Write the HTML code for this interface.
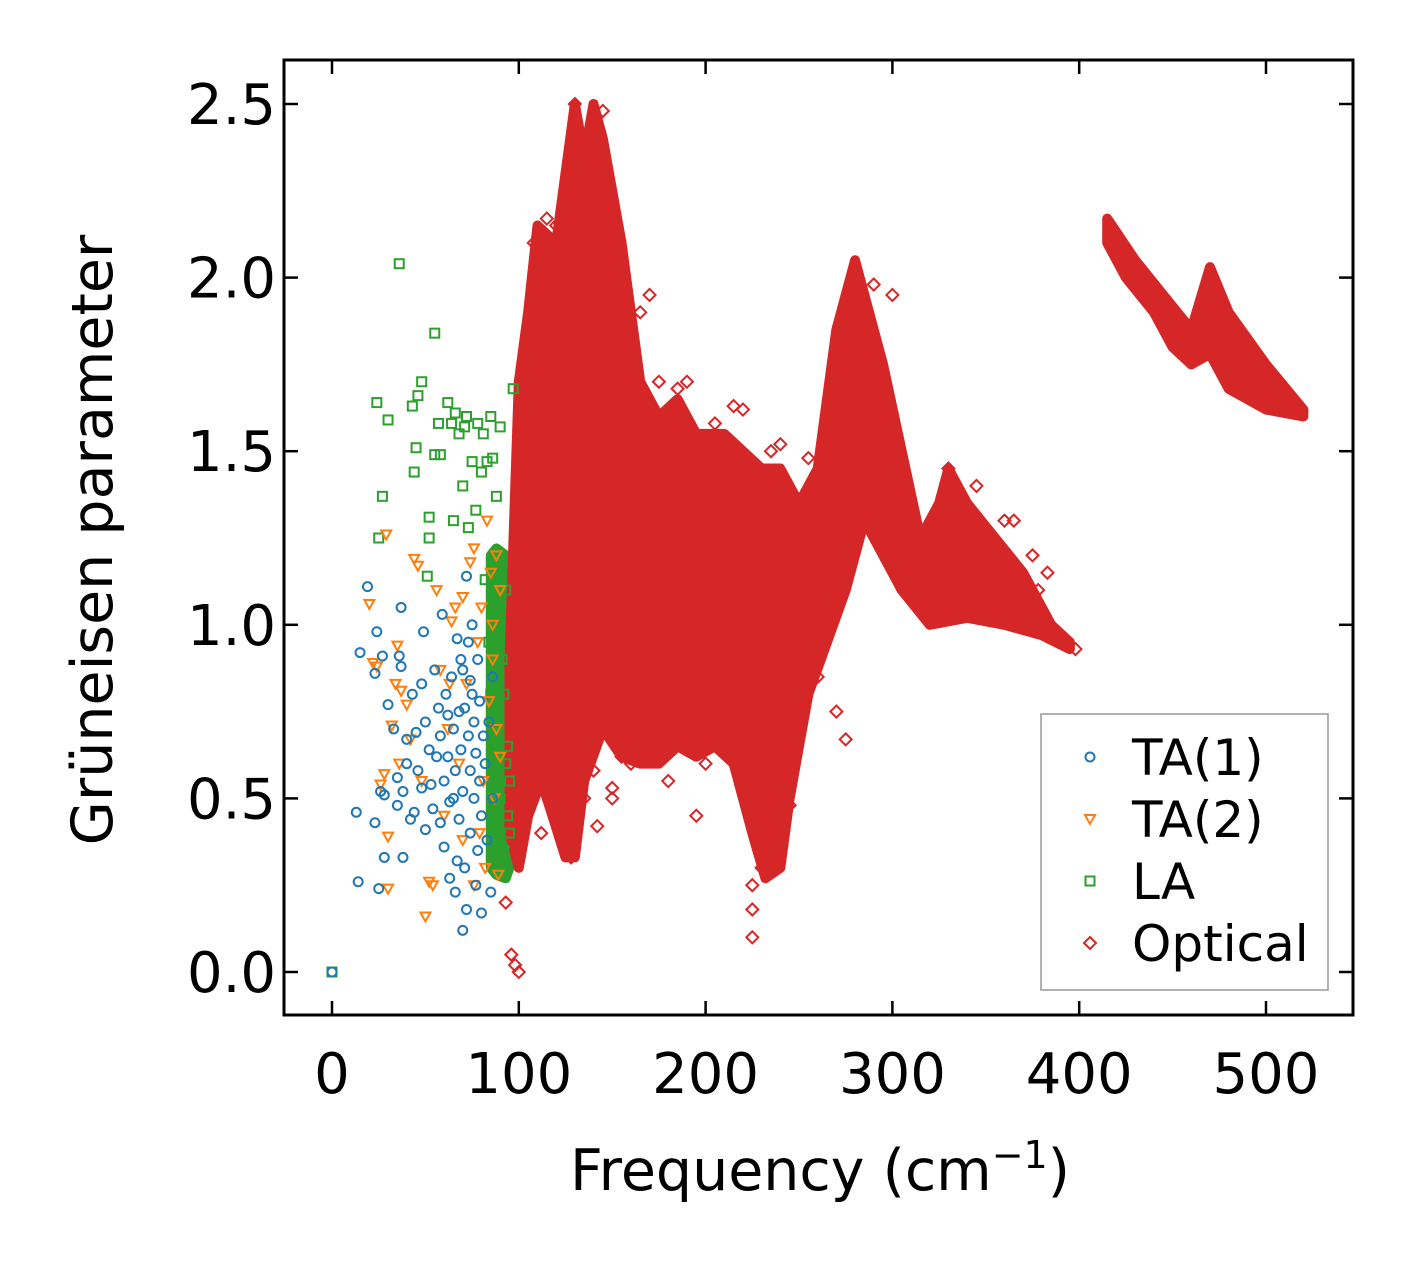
<!DOCTYPE html>
<html><head><meta charset="utf-8"><style>
html,body{margin:0;padding:0;background:#fff}
svg text{font-family:"DejaVu Sans","Liberation Sans",sans-serif;fill:#000}
</style></head><body>
<svg id="chart" width="1413" height="1264" viewBox="0 0 1413 1264">
<g id="marks"></g>
<g id="axes"></g>
</svg>
<script>
const xTicks=[0,100,200,300,400,500];
const yTicks=[0.0,0.5,1.0,1.5,2.0,2.5];
const xTickLabels=["0","100","200","300","400","500"];
const yTickLabels=["0.0","0.5","1.0","1.5","2.0","2.5"];
const ta1Freq=[0,13,14,15,19,23,23,24,25,26,27,28,28,30,33,35,35,37,36,37,38,38,40,42,43,45,46,48,49,50,50,52,53,54,55,57,58,59,60,60,61,62,63,63,64,65,66,66,67,68,68,69,70,70,70,71,72,72,73,73,74,74,75,75,76,76,77,77,78,78,79,79,80,80,81,82,83,84,85,86,86,56,48,44,40,67,62,69,71,74,65,58];
const ta1Gamma=[0,0.46,0.26,0.92,1.11,0.86,0.43,0.98,0.24,0.52,0.91,0.51,0.33,0.77,0.70,0.56,0.48,1.05,0.91,0.88,0.33,0.52,0.6,0.44,0.80,0.69,0.58,0.83,0.98,0.41,0.72,0.64,0.54,0.47,0.87,0.76,0.68,1.03,0.55,0.36,0.8,0.62,0.49,0.27,0.85,0.7,0.58,0.23,0.96,0.44,0.75,0.64,0.12,0.52,0.87,0.3,1.14,0.18,0.68,0.95,0.58,0.4,0.8,1.0,0.72,0.5,0.63,0.25,0.9,0.35,0.55,0.78,0.17,0.45,0.68,0.6,0.38,0.72,0.23,0.85,0.5,0.62,0.53,0.46,0.67,0.32,0.74,0.9,0.76,0.84,0.5,0.43];
const ta2Freq=[20,22,24,26,28,29,30,30,32,34,35,36,37,40,42,44,46,48,50,52,54,56,58,60,62,64,66,68,70,72,74,76,78,80,82,83,85,86,87,88,88,89,90,90,84,79,76,81,86,63,70];
const ta2Gamma=[1.06,0.89,0.88,0.54,0.57,1.26,0.24,0.39,0.71,0.83,0.94,0.6,0.81,0.77,0.67,1.19,1.17,0.55,0.16,0.26,0.25,1.1,0.87,0.45,0.7,1.01,1.05,0.6,0.38,0.83,1.18,1.22,0.95,1.05,0.3,1.3,1.15,0.9,0.5,1.2,0.7,0.28,1.1,0.62,0.78,0.4,0.25,0.55,1.0,0.83,1.08];
const laFreq=[0,36,55,24,27,30,25,45,46,48,43,44,52,52,51,55,57,58,62,64,65,66,68,70,71,72,73,75,77,78,80,81,82,83,85,86,88,90,97,85,86,87,88,89,90,91,92,93,94,95,88,90,92,93,84,86,91,94,89,95];
const laGamma=[0,2.04,1.84,1.64,1.37,1.59,1.25,1.51,1.66,1.70,1.63,1.44,1.31,1.25,1.14,1.49,1.58,1.49,1.64,1.58,1.30,1.61,1.55,1.40,1.57,1.60,1.28,1.47,1.33,1.58,1.44,1.55,1.13,1.47,1.60,1.48,1.37,1.57,1.68,0.8,0.6,0.4,1.0,0.7,0.5,0.9,0.35,0.6,0.45,0.55,0.3,1.2,0.8,1.1,0.95,1.15,0.3,0.65,0.85,0.4];
const laBandFreq=[85,88,93,95,95,93,88,85];
const laBandGamma=[1.2,1.22,1.2,0.65,0.3,0.27,0.28,0.3];
const optFreq=[95,100,105,110,120,125,130,135,140,145,150,155,160,165,175,185,195,210,220,230,240,250,260,270,280,285,295,305,315,325,330,340,355,370,385,395,395,380,360,340,320,305,295,285,275,265,255,245,240,232,225,215,205,195,185,175,165,155,145,135,130,125,118,112,105,100,95];
const optGamma=[0.9,1.7,1.9,2.15,2.1,2.3,2.5,2.35,2.5,2.4,2.25,2.1,1.9,1.7,1.6,1.65,1.55,1.55,1.5,1.45,1.45,1.35,1.45,1.85,2.05,1.95,1.75,1.5,1.25,1.35,1.45,1.35,1.25,1.15,1.0,0.95,0.93,0.97,1.0,1.02,1.0,1.1,1.2,1.3,1.1,0.95,0.8,0.5,0.3,0.27,0.4,0.6,0.65,0.62,0.65,0.6,0.6,0.62,0.7,0.55,0.33,0.33,0.45,0.55,0.45,0.3,0.4];
const opt2Freq=[415,430,445,460,470,480,500,520,520,500,480,470,460,450,440,425,415];
const opt2Gamma=[2.17,2.05,1.95,1.85,2.03,1.9,1.75,1.62,1.6,1.62,1.68,1.78,1.75,1.8,1.9,2.0,2.1];
const optPtFreq=[96,98,100,93,195,225,225,275,398,230,160,150,140,215,120,145,130,300,330,345,360,375,383,190,170,165,210,180,235,250,260,270,128,142,225,245,155,200,115,108,175,185,205,220,240,255,265,290,310,350,365,378,390,135,150,112];
const optPtGamma=[0.05,0.02,0.0,0.2,0.45,0.1,0.18,0.67,0.93,0.3,0.6,0.5,0.58,1.63,2.15,2.48,2.5,1.95,1.45,1.4,1.3,1.2,1.15,1.7,1.95,1.9,0.65,0.55,1.5,0.9,0.85,0.75,0.33,0.42,0.25,0.48,0.62,0.6,2.17,2.1,1.7,1.68,1.58,1.62,1.52,1.48,1.5,1.98,1.3,1.28,1.3,1.1,0.96,0.5,0.53,0.4];

const X=v=>332+v*(1266-332)/500;
const Y=v=>972-v*(972-104)/2.5;
const NS="http://www.w3.org/2000/svg";
const marks=document.getElementById('marks');
const axes=document.getElementById('axes');
function mk(tag,attrs,parent){const e=document.createElementNS(NS,tag);for(const k in attrs)e.setAttribute(k,attrs[k]);parent.appendChild(e);return e;}
const RED='#d62728',GREEN='#2ca02c',BLUE='#1f77b4',ORANGE='#ff7f0e';

function poly(fx,fy,color,name){
  const pts=fx.map((f,i)=>X(f)+','+Y(fy[i])).join(' ');
  const p=mk('polygon',{points:pts,fill:color,stroke:color,'stroke-width':10,'stroke-linejoin':'round'},marks);
  
  
}
function diamond(x,y,c,parent){return mk('polygon',{points:`${x},${y-6} ${x+6},${y} ${x},${y+6} ${x-6},${y}`,fill:'none',stroke:c,'stroke-width':2},parent);}
function circle(x,y,c,parent){return mk('circle',{cx:x,cy:y,r:4.5,fill:'none',stroke:c,'stroke-width':2},parent);}
function tri(x,y,c,parent){return mk('polygon',{points:`${x-5},${y-4} ${x+5},${y-4} ${x},${y+5}`,fill:'none',stroke:c,'stroke-width':2},parent);}
function sq(x,y,c,parent){return mk('rect',{x:x-4.5,y:y-4.5,width:9,height:9,fill:'none',stroke:c,'stroke-width':2},parent);}

poly(laBandFreq,laBandGamma,GREEN,'la-dense-band');
poly(optFreq,optGamma,RED,'optical-cloud');
poly(opt2Freq,opt2Gamma,RED,'optical-high-band');
optPtFreq.forEach((f,i)=>{const e=diamond(X(f),Y(optPtGamma[i]),RED,marks);

});
laFreq.forEach((f,i)=>{const e=sq(X(f),Y(laGamma[i]),GREEN,marks);

});
ta2Freq.forEach((f,i)=>{const e=tri(X(f),Y(ta2Gamma[i]),ORANGE,marks);

});
ta1Freq.forEach((f,i)=>{const e=circle(X(f),Y(ta1Gamma[i]),BLUE,marks);

});

const fr=mk('rect',{x:284,y:60,width:1069,height:955,fill:'none',stroke:'#000','stroke-width':3},axes);


xTicks.forEach((t,i)=>{const x=X(t);
mk('line',{x1:x,x2:x,y1:1015,y2:1001,stroke:'#000','stroke-width':2.5},axes);
mk('line',{x1:x,x2:x,y1:60,y2:74,stroke:'#000','stroke-width':2.5},axes);
const tx=mk('text',{x:x,y:1093,'font-size':56,'text-anchor':'middle'},axes);tx.textContent=xTickLabels[i];

});
yTicks.forEach((t,i)=>{const y=Y(t);
mk('line',{x1:284,x2:298,y1:y,y2:y,stroke:'#000','stroke-width':2.5},axes);
mk('line',{x1:1353,x2:1339,y1:y,y2:y,stroke:'#000','stroke-width':2.5},axes);
const tx=mk('text',{x:276,y:y+20,'font-size':56,'text-anchor':'end'},axes);tx.textContent=yTickLabels[i];

});
const xl=mk('text',{x:820,y:1190,'font-size':57,'text-anchor':'middle'},axes);
xl.innerHTML='Frequency (cm<tspan dy="-22" font-size="38">−1</tspan><tspan dy="22">)</tspan>';


const yl=mk('text',{x:0,y:0,'font-size':57,'text-anchor':'middle',transform:'translate(112,540) rotate(-90)'},axes);
yl.textContent='Grüneisen parameter';



const lg=mk('g',{},axes);


mk('rect',{x:1041,y:714,width:287,height:276,fill:'#fff',stroke:'#999','stroke-width':1.5},lg);
const legNames=['TA(1)','TA(2)','LA','Optical'];
const legFns=[circle,tri,sq,diamond];
const legCols=[BLUE,ORANGE,GREEN,RED];
legNames.forEach((n,i)=>{const y=757+i*62;
legFns[i](1090,y,legCols[i],lg);
const t=mk('text',{x:1132,y:y+18,'font-size':50},lg);t.textContent=n;

});
</script>
</body></html>
